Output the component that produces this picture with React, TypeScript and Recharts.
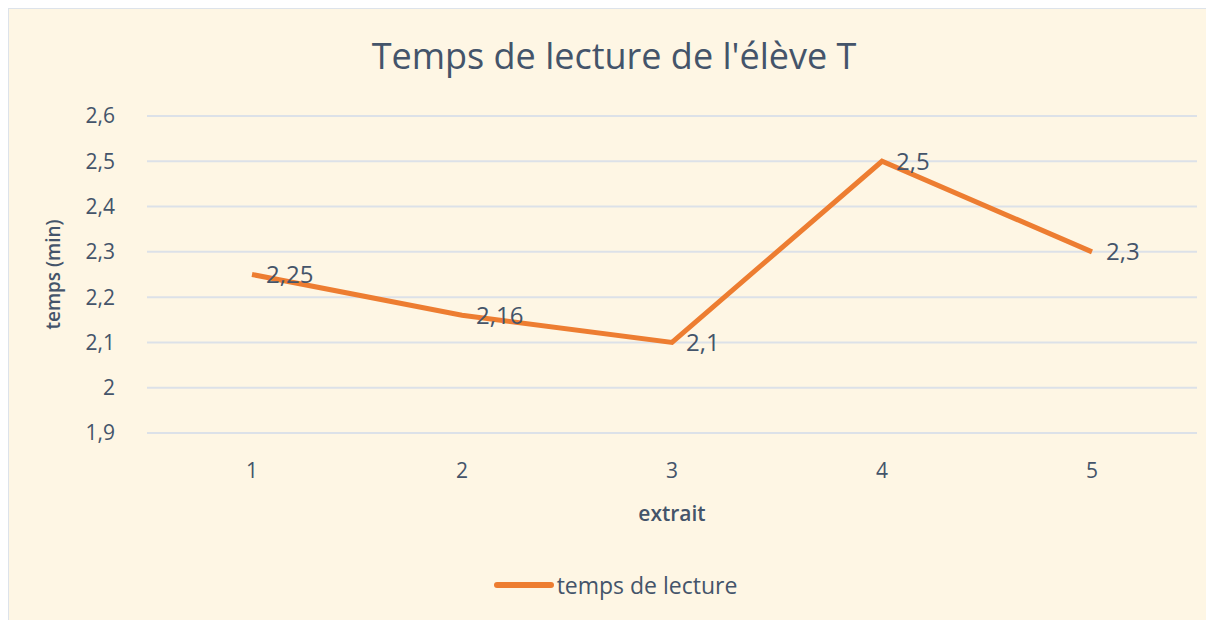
import { CartesianGrid, LabelList, Legend, Line, LineChart, XAxis, YAxis } from "recharts";

const categories = ["1", "2", "3", "4", "5"];
const readingTimes = [2.25, 2.16, 2.1, 2.5, 2.3];
const yTicks = [1.9, 2.0, 2.1, 2.2, 2.3, 2.4, 2.5, 2.6];
const edgeTicks = [0, 1, 2, 3, 4, 5];

const data = categories.map((name, i) => ({ name, value: readingTimes[i] }));

const textColor = "#44546A";
const gridColor = "#DCE1E8";
const lineColor = "#ED7D31";
const font = "'Open Sans', sans-serif";

const comma = (v: number | string) => String(v).replace(".", ",");

const LegendContent = () => (
  <div style={{ display: "flex", justifyContent: "center", alignItems: "center", fontFamily: font, fontSize: 23, color: textColor }}>
    <svg width={62} height={10} style={{ marginRight: 2 }}>
      <line x1={4} y1={5} x2={58} y2={5} stroke={lineColor} strokeWidth={6} strokeLinecap="round" />
    </svg>
    <span>temps de lecture</span>
  </div>
);

export default function App() {
  return (
    <div
      style={{
        position: "relative",
        width: 1212,
        height: 620,
        background: "#FEF6E4",
        border: "1px solid #DDE3EA",
        boxSizing: "border-box",
        fontFamily: font,
      }}
    >
      <div
        style={{
          position: "absolute",
          top: 22,
          left: 0,
          width: "100%",
          textAlign: "center",
          fontSize: 36,
          color: textColor,
        }}
      >
        Temps de lecture de l'élève T
      </div>
      <LineChart
        width={1212}
        height={620}
        data={data}
        margin={{ top: 107, right: 24, left: 0, bottom: 104 }}
      >
        <CartesianGrid vertical={false} stroke={gridColor} strokeWidth={2} />
        <XAxis
          xAxisId="edges"
          type="number"
          domain={[0, 5]}
          ticks={edgeTicks}
          tick={false}
          height={0}
          axisLine={{ stroke: gridColor, strokeWidth: 2 }}
          tickLine={{ stroke: gridColor, strokeWidth: 2 }}
          tickSize={8}
        />
        <XAxis
          dataKey="name"
          scale="band"
          axisLine={false}
          tickLine={false}
          tickMargin={24}
          height={92}
          tick={{ fill: textColor, fontSize: 21, fontFamily: font }}
          label={{ value: "extrait", position: "insideBottom", offset: 4, fill: textColor, fontSize: 21, fontWeight: 600, fontFamily: font }}
        />
        <YAxis
          domain={[1.9, 2.6]}
          ticks={yTicks}
          width={138}
          axisLine={false}
          tickLine={false}
          tickMargin={26}
          tickFormatter={(v: number) => comma(Number(v.toFixed(1)))}
          tick={{ fill: textColor, fontSize: 21, fontFamily: font }}
          label={{ value: "temps (min)", angle: -90, position: "insideLeft", offset: 44, fill: textColor, fontSize: 19, fontWeight: 600, fontFamily: font, style: { textAnchor: "middle" } }}
        />
        <Legend
          layout="horizontal"
          verticalAlign="middle"
          align="center"
          content={<LegendContent />}
          wrapperStyle={{ top: 560, left: 0, width: 1212 }}
        />
        <Line
          type="linear"
          dataKey="value"
          stroke={lineColor}
          strokeWidth={5}
          dot={false}
          activeDot={false}
          isAnimationActive={false}
        >
          <LabelList
            dataKey="value"
            position="right"
            offset={14}
            formatter={(v: any) => comma(v)}
            style={{ fill: textColor, fontSize: 24, fontFamily: font }}
          />
        </Line>
      </LineChart>
    </div>
  );
}
